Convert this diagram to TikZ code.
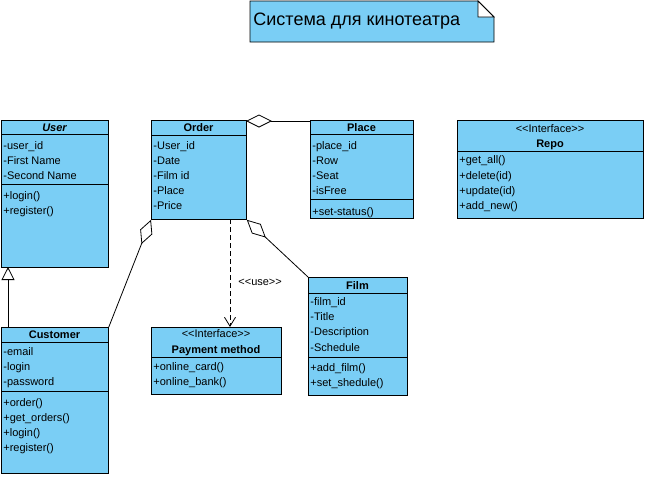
\documentclass[tikz,border=0pt]{standalone}
\usepackage{fontspec}
\setmainfont{Liberation Sans}
\usetikzlibrary{arrows.meta}
\definecolor{cls}{RGB}{122,206,245}
\newcommand{\lgl}{<\kern0pt<}
\newcommand{\rgl}{>\kern0pt>}
\begin{document}
\begin{tikzpicture}[x=1pt,y=-1pt,line width=0.8pt,
  box/.style={draw=black,fill=cls,anchor=north west,inner sep=0pt},
  txt/.style={anchor=base west,inner sep=0pt,font=\fontsize{11}{13}\selectfont},
  hdr/.style={anchor=base,inner sep=0pt,font=\fontsize{11}{13}\selectfont\bfseries},
  ster/.style={anchor=base,inner sep=0pt,font=\fontsize{11}{13}\selectfont},
  aggr/.style={{Diamond[open,length=26pt,width=13pt]}-},
  gen/.style={-{Triangle[open,length=13pt,width=13pt,fill=white]}},
  dep/.style={dash pattern=on 5pt off 3pt,-{Straight Barb[length=9pt,width=11pt]}}]
\useasboundingbox (0,0) rectangle (656,477);

% title note
\fill[cls] (250,1) -- (478,1) -- (494,17) -- (494,42) -- (250,42) -- cycle;
\draw (250,1) -- (478,1) -- (494,17) -- (494,42) -- (250,42) -- cycle;
\draw[fill=white] (478,1) -- (478,17) -- (494,17) -- cycle;
\node[anchor=base west,inner sep=0pt,font=\fontsize{18}{21}\selectfont] (title) at (253,25) {Система для кинотеатра};

% User
\node[box,minimum width=107pt,minimum height=147pt] (user) at (1,120) {};
\draw (1,134) -- (108,134);
\draw (1,184) -- (108,184);
\node[hdr,font=\fontsize{11}{13}\selectfont\bfseries\itshape] (userh) at (54.5,131) {User};
\node[txt] (u1) at (3,149) {-user\_id};
\node[txt] (u2) at (3,164) {-First Name};
\node[txt] (u3) at (3,179) {-Second Name};
\node[txt] (u4) at (3,199) {+login()};
\node[txt] (u5) at (3,214) {+register()};

% Order
\node[box,minimum width=95pt,minimum height=99pt] (order) at (151,120) {};
\draw (151,135) -- (246,135);
\node[hdr] (orderh) at (198.5,131) {Order};
\node[txt] (o1) at (153,149) {-User\_id};
\node[txt] (o2) at (153,164) {-Date};
\node[txt] (o3) at (153,179) {-Film id};
\node[txt] (o4) at (153,194) {-Place};
\node[txt] (o5) at (153,209) {-Price};

% Place
\node[box,minimum width=103pt,minimum height=98pt] (place) at (310,120) {};
\draw (310,134) -- (413,134);
\draw (310,199) -- (413,199);
\node[hdr] (placeh) at (361.5,131) {Place};
\node[txt] (p1) at (312,149) {-place\_id};
\node[txt] (p2) at (312,164) {-Row};
\node[txt] (p3) at (312,179) {-Seat};
\node[txt] (p4) at (312,194) {-isFree};
\node[txt] (p5) at (312,215) {+set-status()};

% Repo
\node[box,minimum width=186pt,minimum height=98pt] (repo) at (457,120) {};
\draw (457,151) -- (643,151);
\node[ster] (repos) at (550,132) {\lgl Interface\rgl};
\node[hdr] (repoh) at (550,147) {Repo};
\node[txt] (r1) at (459,163) {+get\_all()};
\node[txt] (r2) at (459,179) {+delete(id)};
\node[txt] (r3) at (459,194) {+update(id)};
\node[txt] (r4) at (459,209) {+add\_new()};

% Customer
\node[box,minimum width=107pt,minimum height=146pt] (customer) at (1,327) {};
\draw (1,342) -- (108,342);
\draw (1,391) -- (108,391);
\node[hdr] (custh) at (54.5,338) {Customer};
\node[txt] (c1) at (3,355) {-email};
\node[txt] (c2) at (3,370) {-login};
\node[txt] (c3) at (3,385) {-password};
\node[txt] (c4) at (3,406) {+order()};
\node[txt] (c5) at (3,421) {+get\_orders()};
\node[txt] (c6) at (3,436) {+login()};
\node[txt] (c7) at (3,451) {+register()};

% Payment method
\node[box,minimum width=130pt,minimum height=67pt] (pay) at (151,327) {};
\draw (151,357) -- (281,357);
\node[ster] (pays) at (216,337) {\lgl Interface\rgl};
\node[hdr] (payh) at (216,353) {Payment method};
\node[txt] (m1) at (153,370) {+online\_card()};
\node[txt] (m2) at (153,385) {+online\_bank()};

% Film
\node[box,minimum width=99pt,minimum height=118pt] (film) at (308,277) {};
\draw (308,293) -- (407,293);
\draw (308,357) -- (407,357);
\node[hdr] (filmh) at (357.5,289) {Film};
\node[txt] (f1) at (310,305) {-film\_id};
\node[txt] (f2) at (310,320) {-Title};
\node[txt] (f3) at (310,335) {-Description};
\node[txt] (f4) at (310,351) {-Schedule};
\node[txt] (f5) at (310,371) {+add\_film()};
\node[txt] (f6) at (310,386) {+set\_shedule()};

% connectors
\coordinate (genA) at (8,327);
\coordinate (genB) at (8,267);
\draw[gen] (genA) -- (genB);
\coordinate (aggA) at (246,121);
\coordinate (aggB) at (310,121);
\draw[aggr] (aggA) -- (aggB);
\draw[aggr] (order.south west) -- (customer.north east);
\draw[aggr] (order.south east) -- (film.north west);
\coordinate (depA) at (230,219);
\coordinate (depB) at (230,327);
\draw[dep] (depA) -- (depB);
\node[txt] (use) at (238,285) {\lgl use\rgl};
\end{tikzpicture}
\end{document}
